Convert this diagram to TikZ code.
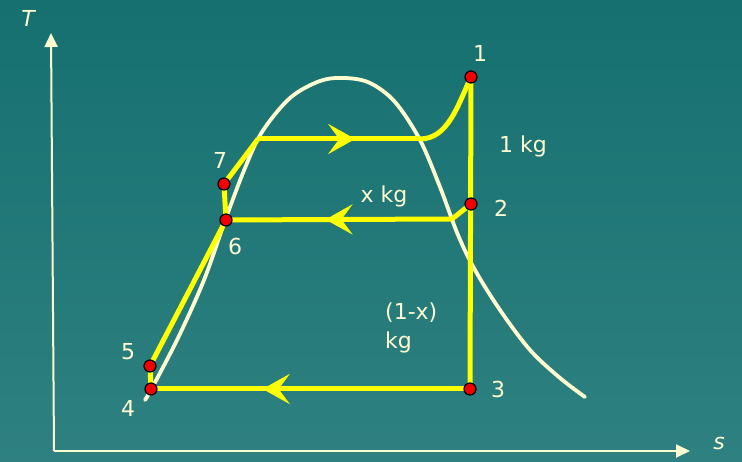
\documentclass[tikz,border=0pt]{standalone}
\usepackage{fontspec}
\setmainfont{DejaVu Sans}
\usetikzlibrary{arrows.meta,decorations.markings}
\definecolor{bgtop}{RGB}{22,112,112}
\definecolor{bgbot}{RGB}{46,129,128}
\definecolor{cream}{RGB}{255,252,208}
\definecolor{ylw}{RGB}{255,255,0}
\definecolor{dotred}{RGB}{240,0,0}
\tikzset{
  lbl/.style={text=cream,font=\fontsize{22}{26}\selectfont,inner sep=0pt},
  axis/.style={draw=cream,line width=2pt,-{Triangle[length=14pt,width=13pt]}},
  dome/.style={draw=cream,line width=3.8pt,line cap=round},
  cyc/.style={draw=ylw,line width=5pt,line join=round},
  flowarrow/.style={decoration={markings,mark=at position #1 with {\arrow[ylw]{Stealth[length=27pt,width=30pt,inset=11pt]}}},postaction={decorate}},
  pt/.style={circle,fill=dotred,draw=black,line width=1.2pt,minimum size=12pt,inner sep=0pt}
}
\begin{document}
\begin{tikzpicture}[x=1pt,y=-1pt]
\useasboundingbox (0,0) rectangle (742,462);
\shade[top color=bgtop,bottom color=bgbot] (0,0) rectangle (742,462);
% axes
\coordinate (O) at (54,451);
\coordinate (Ty) at (51,33);
\coordinate (Sx) at (690,451);
\draw[axis] (O) -- (Ty);
\draw[axis] (O) -- (Sx);
\node[lbl,font=\fontsize{22}{26}\selectfont\itshape] (Tl) at (28,18) {T};
\node[lbl,font=\fontsize{22}{26}\selectfont\itshape] (sl) at (719,443) {s};
% dome
\draw[dome] plot[smooth,tension=0.55] coordinates {(145,400) (152,388) (178,338) (204,280) (226,218) (245,168) (262,132) (290,98) (320,81) (345,78) (370,83) (395,102) (420,140) (440,187) (458,235) (475,270) (500,310) (530,350) (560,378) (585,397)};
% state points
\coordinate (p1) at (471,77);
\coordinate (p2) at (471,204);
\coordinate (p3) at (470,389);
\coordinate (p4) at (151,389);
\coordinate (p5) at (150,366);
\coordinate (p6) at (226,220);
\coordinate (p7) at (224,184);
\coordinate (a7) at (258,139);
\coordinate (b7) at (420,139);
\coordinate (c2) at (452,219);
% cycle
\draw[cyc] (p1) -- (p3);
\draw[cyc,flowarrow=0.65] (p3) -- (p4);
\draw[cyc] (p4) -- (p5) -- (p6) -- (p7) -- (a7);
\draw[cyc,flowarrow=0.6] (a7) -- (b7);
\draw[cyc] (b7) .. controls (448,139) and (458,105) .. (p1);
\draw[cyc] (p2) -- (c2);
\draw[cyc,flowarrow=0.56] (c2) -- (p6);
% dots
\foreach \p in {p1,p2,p3,p4,p5,p6,p7} \node[pt] (d\p) at (\p) {};
% labels
\node[lbl] (l1) at (480,53) {1};
\node[lbl] (l2) at (501,208) {2};
\node[lbl] (l3) at (498,389) {3};
\node[lbl] (l4) at (128,408) {4};
\node[lbl] (l5) at (128,352) {5};
\node[lbl] (l6) at (235,246) {6};
\node[lbl] (l7) at (220,160) {7};
\node[lbl] (m1) at (523,146) {1 kg};
\node[lbl] (mx) at (384,196) {x kg};
\node[lbl,align=left,anchor=north west,font=\fontsize{22}{29}\selectfont] (m2) at (385,303) {(1-x)\\kg};
\end{tikzpicture}
\end{document}
